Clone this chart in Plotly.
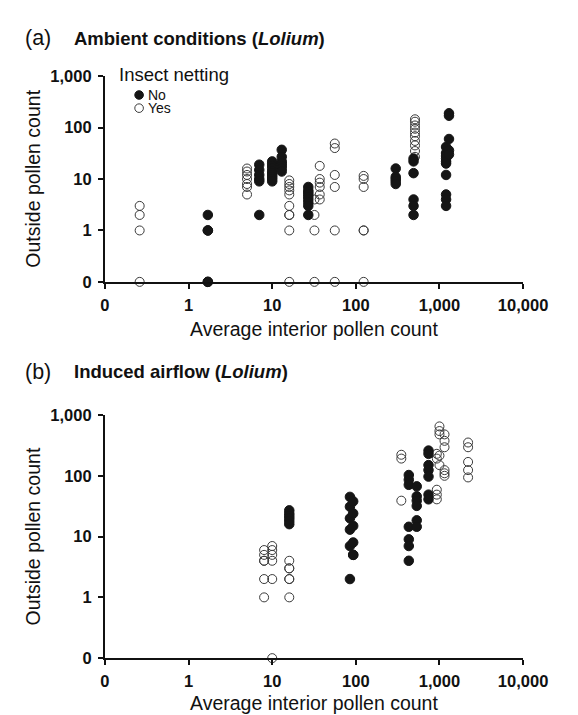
import plotly.graph_objects as go

# ---------------- data ----------------
# Panel (a) Ambient conditions, insect netting = No (filled)
a_no_x = [1.7]*5 + [7]*6 + [10]*10 + [13]*7 + [27]*9 + [300]*5 + [490]*6 + [1200]*10 + [1300]*5
a_no_y = ([2, 1, 1, 0, 0] +
          [19, 15, 12, 10, 9, 2] +
          [22, 20, 18, 16, 14, 13, 12, 11, 10, 9] +
          [37, 27, 22, 20, 18, 16, 14] +
          [7, 6, 5.5, 5, 4.5, 4, 3.5, 3, 2] +
          [16, 11, 10, 9, 8] +
          [25, 22, 13, 4, 3, 2] +
          [42, 32, 28, 25, 22, 20, 12, 5, 4, 3] +
          [190, 170, 60, 36, 30])
# Panel (a), insect netting = Yes (open)
a_yes_x = [0.26]*4 + [5]*7 + [16]*10 + [32]*4 + [37]*6 + [56]*6 + [124]*6 + [510]*10
a_yes_y = ([3, 2, 1, 0] +
           [16, 14, 12, 10, 8, 7, 5] +
           [9.4, 8, 7, 6, 5, 3, 2, 2, 1, 0] +
           [4, 2, 1, 0] +
           [18, 10, 8.5, 7, 5, 4] +
           [49, 40, 12, 7, 1, 0] +
           [11.5, 10, 7, 1, 1, 0] +
           [145, 130, 110, 95, 80, 68, 55, 45, 35, 27])

# Panel (b) Induced airflow, No (filled)
b_no_x = [16]*6 + [85]*6 + [93]*6 + [430]*7 + [535]*6 + [740]*7
b_no_y = ([27, 24, 22, 20, 18, 16] +
          [45, 31, 20, 13, 7, 2] +
          [38, 24, 15, 8, 5, 5] +
          [103, 86, 71, 14.5, 9, 7, 4] +
          [67, 46, 39, 32, 18.5, 14.5] +
          [260, 230, 150, 124, 97, 49, 41])
# Panel (b), Yes (open)
b_yes_x = [8]*6 + [10]*6 + [16]*6 + [350]*3 + [930]*5 + [1000]*5 + [1150]*6 + [2200]*5
b_yes_y = ([6, 5, 4, 4, 2, 1] +
           [7, 6, 5, 4, 2, 0] +
           [4, 3, 3, 2, 2, 1] +
           [222, 192, 39] +
           [230, 192, 59, 49, 41] +
           [650, 545, 480, 215, 150] +
           [480, 376, 295, 124, 110, 100] +
           [353, 295, 169, 124, 94])

tick_vals = [0.1, 1, 10, 100, 1000, 10000]
x_tick_text = ["0", "1", "10", "100", "1,000", "10,000"]
y_tick_vals = [0.1, 1, 10, 100, 1000]
y_tick_text = ["0", "1", "10", "100", "1,000"]
ZERO_POS = 0.1  # where a count of 0 is drawn on the log axes


def place(vals):
    return [ZERO_POS if v == 0 else v for v in vals]


W, H = 578, 715
FONT = "Liberation Sans, Arial, Helvetica, sans-serif"


def px(p):
    return p / W


def py(p):
    return 1 - p / H


filled = dict(size=9.5, color="#151515", line=dict(color="#151515", width=1))
hollow = dict(size=9, color="rgba(0,0,0,0)", line=dict(color="#3a3a3a", width=1))

fig = go.Figure()
fig.add_trace(go.Scatter(x=place(a_yes_x), y=place(a_yes_y), mode="markers", marker=hollow,
                         xaxis="x", yaxis="y", cliponaxis=False, showlegend=False))
fig.add_trace(go.Scatter(x=place(a_no_x), y=place(a_no_y), mode="markers", marker=filled,
                         xaxis="x", yaxis="y", cliponaxis=False, showlegend=False))
fig.add_trace(go.Scatter(x=place(b_yes_x), y=place(b_yes_y), mode="markers", marker=hollow,
                         xaxis="x2", yaxis="y2", cliponaxis=False, showlegend=False))
fig.add_trace(go.Scatter(x=place(b_no_x), y=place(b_no_y), mode="markers", marker=filled,
                         xaxis="x2", yaxis="y2", cliponaxis=False, showlegend=False))

tickfont = dict(family=FONT, size=16.5, color="#111", weight="bold")
common = dict(type="log", showgrid=False, zeroline=False, showline=True, linecolor="#111",
              linewidth=2, ticks="outside", ticklen=5, tickwidth=1.5, tickcolor="#111",
              tickfont=tickfont)
xcommon = dict(common, range=[-1, 4], tickvals=tick_vals, ticktext=x_tick_text,
               domain=[px(97), px(538)], ticklabelstandoff=2)
ycommon = dict(common, range=[-1, 3], tickvals=y_tick_vals, ticktext=y_tick_text,
               ticklabelstandoff=3)

fig.update_layout(
    width=W, height=H,
    margin=dict(l=0, r=0, t=0, b=0),
    paper_bgcolor="white", plot_bgcolor="white",
    xaxis=dict(xcommon, anchor="y"),
    yaxis=dict(ycommon, anchor="x", domain=[py(271.7), py(60.7)]),
    xaxis2=dict(xcommon, anchor="y2"),
    yaxis2=dict(ycommon, anchor="x2", domain=[py(657.7), py(408.3)]),
    showlegend=False,
)

ann = []


def text(x, y, s, size, xanchor="left", angle=0, color="#111"):
    ann.append(dict(x=px(x), y=py(y), xref="paper", yref="paper", text=s, showarrow=False,
                    xanchor=xanchor, yanchor="middle", textangle=angle, borderpad=0,
                    font=dict(family=FONT, size=size, color=color)))


text(12, 22, "(a)", 21.5)
text(63, 22, "<b>Ambient conditions (<i>Lolium</i>)</b>", 18.5)
text(12, 364, "(b)", 21.5)
text(63, 364, "<b>Induced airflow (<i>Lolium</i>)</b>", 18.5)
for yc in (166, 533):
    text(21, yc, "Outside pollen count", 19.5, xanchor="center", angle=-90)
for yc in (320, 704):
    text(317.5, yc, "Average interior pollen count", 19.5, xanchor="center")
text(111, 59, "Insect netting", 18.5)
text(141, 80, "No", 14)
text(141, 93.5, "Yes", 14)
fig.update_layout(annotations=ann)

# legend symbols
fig.add_shape(type="circle", xref="paper", yref="paper", xsizemode="pixel", ysizemode="pixel",
              xanchor=px(133), yanchor=py(80), x0=-4.3, x1=4.3, y0=-4.3, y1=4.3,
              fillcolor="#151515", line=dict(color="#151515", width=1))
fig.add_shape(type="circle", xref="paper", yref="paper", xsizemode="pixel", ysizemode="pixel",
              xanchor=px(133), yanchor=py(93.5), x0=-4.3, x1=4.3, y0=-4.3, y1=4.3,
              fillcolor="rgba(0,0,0,0)", line=dict(color="#3a3a3a", width=1))

fig.write_html("out.html")
